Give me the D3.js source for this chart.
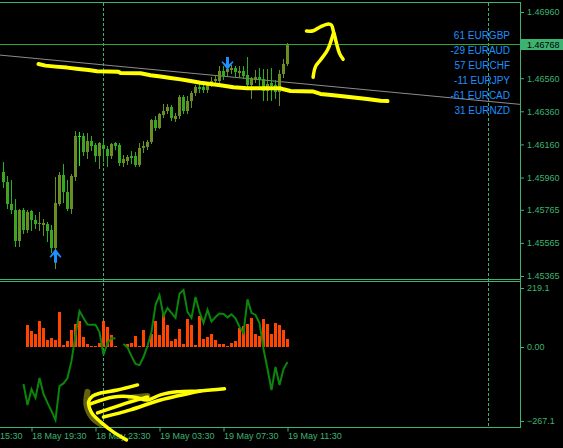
<!DOCTYPE html>
<html>
<head>
<meta charset="utf-8">
<script src="https://cdn.jsdelivr.net/npm/d3@7"></script>
<style>
  html, body { margin: 0; padding: 0; background: #000; }
  svg { display: block; }
</style>
</head>
<body>
<div id="chart"></div>
<script>
// ---- data ----
var startTime = "2021-05-18T17:45";   // first bar, M15
var barMinutes = 15;

// [open, high, low, close]
var candles = [
  [1.45994,1.46054,1.45903,1.45933],[1.45933,1.45969,1.45776,1.45800],[1.45800,1.45945,1.45746,1.45764],
  [1.45764,1.45831,1.45547,1.45574],[1.45574,1.45770,1.45547,1.45764],[1.45764,1.45776,1.45625,1.45640],
  [1.45640,1.45764,1.45631,1.45752],[1.45758,1.45764,1.45643,1.45701],[1.45704,1.45734,1.45655,1.45680],
  [1.45677,1.45752,1.45640,1.45683],[1.45674,1.45710,1.45613,1.45686],[1.45680,1.45689,1.45574,1.45634],
  [1.45643,1.45674,1.45513,1.45535],[1.45535,1.45966,1.45414,1.45806],[1.45800,1.45991,1.45794,1.45975],
  [1.45975,1.46042,1.45815,1.45873],[1.45873,1.45945,1.45764,1.45770],[1.45770,1.45982,1.45746,1.45969],
  [1.45966,1.46244,1.45945,1.46211],[1.46211,1.46238,1.46036,1.46211],[1.46211,1.46229,1.46096,1.46117],
  [1.46117,1.46229,1.46078,1.46181],[1.46181,1.46208,1.46126,1.46151],[1.46157,1.46169,1.46057,1.46087],
  [1.46090,1.46172,1.46018,1.46169],[1.46154,1.46181,1.46057,1.46133],[1.46133,1.46148,1.46027,1.46093],
  [1.46093,1.46169,1.46078,1.46160],[1.46166,1.46172,1.46133,1.46148],[1.46157,1.46166,1.46036,1.46048],
  [1.46048,1.46099,1.46027,1.46072],[1.46060,1.46096,1.46039,1.46081],[1.46090,1.46120,1.46048,1.46078],
  [1.46087,1.46117,1.46027,1.46036],[1.46036,1.46166,1.46027,1.46136],[1.46136,1.46181,1.46117,1.46148],
  [1.46142,1.46184,1.46133,1.46172],[1.46172,1.46311,1.46166,1.46308],[1.46308,1.46332,1.46247,1.46262],
  [1.46262,1.46347,1.46259,1.46344],[1.46338,1.46407,1.46323,1.46362],[1.46359,1.46407,1.46347,1.46389],
  [1.46389,1.46398,1.46308,1.46317],[1.46314,1.46347,1.46299,1.46332],[1.46329,1.46456,1.46317,1.46444],
  [1.46444,1.46456,1.46347,1.46359],[1.46359,1.46450,1.46347,1.46422],[1.46422,1.46480,1.46386,1.46471],
  [1.46471,1.46519,1.46459,1.46507],[1.46507,1.46525,1.46477,1.46495],[1.46507,1.46519,1.46477,1.46489],
  [1.46489,1.46537,1.46477,1.46522],[1.46522,1.46567,1.46510,1.46546],[1.46543,1.46579,1.46519,1.46555],
  [1.46543,1.46631,1.46528,1.46601],[1.46601,1.46631,1.46558,1.46573],[1.46595,1.46640,1.46579,1.46616],
  [1.46610,1.46640,1.46592,1.46622],[1.46622,1.46634,1.46570,1.46595],[1.46592,1.46631,1.46570,1.46601],
  [1.46601,1.46634,1.46561,1.46573],[1.46579,1.46691,1.46510,1.46519],[1.46519,1.46570,1.46438,1.46561],
  [1.46552,1.46610,1.46537,1.46570],[1.46570,1.46619,1.46519,1.46552],[1.46558,1.46613,1.46428,1.46480],
  [1.46480,1.46613,1.46428,1.46528],[1.46534,1.46619,1.46428,1.46513],[1.46519,1.46549,1.46438,1.46474],
  [1.46474,1.46607,1.46398,1.46586],[1.46586,1.46676,1.46570,1.46646],[1.46646,1.46773,1.46640,1.46768]
];

// indicator window: histogram and line, one value per bar (null = empty)
var histValues = [null,null,null,null,null,null,
  73,53,43,87,63,23,30,23,117,7,20,57,77,87,33,10,2,2,13,87,67,40,3,0,0,10,13,37,3,57,
  3,43,87,40,110,73,20,27,60,10,93,73,7,103,27,33,43,23,10,10,3,13,20,63,70,77,97,43,37,93,
  77,43,80,73,57,27];
var lineValues = [null,null,null,null,null,
  -124,-194,-141,-170,-104,-157,-187,-214,-244,-131,-122,-104,-47,39,119,96,74,73,73,49,
  -27,13,29,28,null,9,-2,-31,-57,-61,-34,3,49,139,172,103,129,113,96,177,
  189,116,96,166,116,79,123,84,99,111,109,98,108,95,66,46,158,113,106,79,
  -7,-74,-144,-67,-127,-74,-51];

var priceTicks = [1.46960, 1.46560, 1.46360, 1.46160, 1.45960, 1.45765, 1.45565, 1.45365];
var priceMin = 1.45365, priceMax = 1.46960;
var subTicks = [219.1, 0, -267.1];
var timeTicks = ["2021-05-18T15:30","2021-05-18T19:30","2021-05-18T23:30",
                 "2021-05-19T03:30","2021-05-19T07:30","2021-05-19T11:30"];
var daySeparators = ["2021-05-19T00:00","2021-05-20T00:00"];

var pairs = ["EURGBP","EURAUD","EURCHF","EURJPY","EURCAD","EURNZD"];
var pairScores = [61, -29, 57, -11, -61, 31];

// signal arrows [bar, price]
var upArrows = [[13, 1.45529]];
var downArrows = [[56, 1.46610]];

// grey trend line and hand drawn yellow marks, [bar, price] / [bar, value]
var trendLine = [[-1, 1.46700], [130, 1.46400]];
var yellowCurve = [[8.75,1.46646],[10.5,1.46636],[13,1.46630],[15.9,1.46624],[18.75,1.46616],[21.25,1.46610],
  [23.4,1.46602],[28.75,1.46599],[29.25,1.46592],[34.25,1.46590],[36.75,1.46578],[39.25,1.46570],
  [41.75,1.46561],[44.25,1.46553],[46.75,1.46543],[49.25,1.46533],[51.75,1.46525],[54.25,1.46517],
  [57.5,1.46505],[60.9,1.46499],[69.25,1.46499],[70,1.46493],[71.75,1.46483],[77.5,1.46479],
  [79.25,1.46465],[82.5,1.46457],[85.9,1.46448],[90.9,1.46435],[94.25,1.46424],[96,1.46422]];
var scribbleTop = [
  [[75.75,1.46845],[77.5,1.46847],[79.25,1.46871],[81.25,1.46888],[82,1.46881],[82.5,1.46841],
   [82.75,1.46821],[83.25,1.46771],[84,1.46710],[84.9,1.46674]],
  [[82.5,1.46833],[81,1.46730],[79.25,1.46670],[78,1.46630],[77.4,1.46566]]
];
var scribbleSub = [
  [[33.5,-127],[28.5,-144],[24.25,-154],[22.25,-164],[21.25,-184],[21.5,-204],[22.25,-224],
   [24.25,-250],[27.5,-284],[30.75,-310]],
  [[21.75,-190],[27.5,-167],[32.5,-167],[36,-177],[39.25,-160],[43.5,-150],[49.25,-147],[55.25,-140]],
  [[23.5,-220],[29.25,-194],[36,-167]],
  [[25,-234],[31.75,-210],[39.25,-177],[49.25,-147]]
];
var scribbleShade = [
  [[21,-150],[20.75,-194],[22.25,-237],[24.25,-257]],
  [[31.75,-170],[36,-164]]
];

// ---- layout ----
var W = 563, H = 448;
var axisX = 520;
var mainTop = 2, mainBottom = 279, subTop = 281, subBottom = 427;
var frameColor = "#3cb371";
var textFont = "'Liberation Sans', Arial, sans-serif";

var svg = d3.select("#chart").append("svg")
  .attr("width", W).attr("height", H)
  .style("background", "#000");

var parseT = d3.timeParse("%Y-%m-%dT%H:%M");
var t0 = parseT(startTime);
function barTime(i) { return new Date(t0.getTime() + i * barMinutes * 60000); }

var x = d3.scaleTime()
  .domain([barTime(0), barTime(candles.length - 1)])
  .range([3.5, 287.5]);
function bx(i) { return x(barTime(i)); }

var y = d3.scaleLinear().domain([priceMin, priceMax]).range([276, 12]);
var ys = d3.scaleLinear().domain([-267.1, 219.1]).range([subBottom, subTop]);

var defs = svg.append("defs");
defs.append("clipPath").attr("id", "clipMain")
  .append("rect").attr("x", 0).attr("y", mainTop + 1).attr("width", axisX).attr("height", mainBottom - mainTop - 1);
defs.append("clipPath").attr("id", "clipSub")
  .append("rect").attr("x", 0).attr("y", subTop + 1).attr("width", axisX).attr("height", subBottom - subTop - 1);

// period separators
svg.append("g").selectAll("line")
  .data(daySeparators)
  .join("line")
    .attr("x1", d => Math.round(x(parseT(d))) + 0.5)
    .attr("x2", d => Math.round(x(parseT(d))) + 0.5)
    .attr("y1", mainTop + 1).attr("y2", subBottom)
    .attr("stroke", frameColor)
    .attr("stroke-dasharray", "3,2");

// ---- main window ----
var main = svg.append("g").attr("clip-path", "url(#clipMain)");

main.append("path")
  .datum(trendLine)
  .attr("fill", "none")
  .attr("stroke", "#8c8c8c")
  .attr("stroke-width", 1)
  .attr("d", d3.line().x(d => bx(d[0])).y(d => y(d[1])));

var olive = "#6b8e23", bearEdge = "#22b222", dojiColor = "#00ff00";
var candleG = main.append("g").attr("shape-rendering", "crispEdges");
candles.forEach(function(c, i) {
  var o = c[0], h = c[1], l = c[2], cl = c[3];
  var cx = bx(i);
  var bull = cl > o, doji = cl === o;
  var col = doji ? dojiColor : (bull ? olive : bearEdge);
  candleG.append("line")
    .attr("x1", cx).attr("x2", cx)
    .attr("y1", Math.round(y(h))).attr("y2", Math.round(y(l)) + 1)
    .attr("stroke", col);
  var top = Math.round(y(Math.max(o, cl))), bot = Math.round(y(Math.min(o, cl)));
  if (doji) {
    candleG.append("line")
      .attr("x1", cx - 1.5).attr("x2", cx + 1.5)
      .attr("y1", top + 0.5).attr("y2", top + 0.5)
      .attr("stroke", col);
  } else if (bull) {
    candleG.append("rect")
      .attr("x", cx - 1.5).attr("width", 3)
      .attr("y", top).attr("height", Math.max(1, bot - top))
      .attr("fill", olive);
  } else {
    candleG.append("rect")
      .attr("x", cx - 1).attr("width", 2)
      .attr("y", top + 0.5).attr("height", Math.max(0, bot - top - 1))
      .attr("fill", olive)
      .attr("stroke", bearEdge);
  }
});

// bid line
var lastClose = candles[candles.length - 1][3];
var bidY = Math.round(y(lastClose)) + 0.5;
main.append("line")
  .attr("x1", 0).attr("x2", axisX)
  .attr("y1", bidY).attr("y2", bidY)
  .attr("stroke", "#2ea82e");

// arrows
var arrowUp = "M0,0L6,8L5,8.8L1.5,5.6L1.5,14L-1.5,14L-1.5,5.6L-5,8.8L-6,8Z";
var arrowDown = "M0,0L6,-8L5,-8.8L1.5,-5.6L1.5,-13L-1.5,-13L-1.5,-5.6L-5,-8.8L-6,-8Z";
main.selectAll(".up").data(upArrows).join("path")
  .attr("d", arrowUp).attr("fill", "#1e90ff")
  .attr("transform", d => "translate(" + bx(d[0]) + "," + y(d[1]) + ")");
main.selectAll(".down").data(downArrows).join("path")
  .attr("d", arrowDown).attr("fill", "#1e90ff")
  .attr("transform", d => "translate(" + bx(d[0]) + "," + y(d[1]) + ")");

// pair strength labels
svg.append("g")
  .attr("font-family", textFont).attr("font-size", 10)
  .attr("fill", "#1e90ff").attr("text-anchor", "end")
  .selectAll("text")
  .data(pairs)
  .join("text")
    .attr("x", 510)
    .attr("y", (d, i) => 38.7 + i * 15)
    .text((d, i) => pairScores[i] + " " + d);

// ---- indicator window ----
var sub = svg.append("g").attr("clip-path", "url(#clipSub)");
sub.append("g").attr("shape-rendering", "crispEdges")
  .selectAll("rect")
  .data(histValues.map((v, i) => [i, v]).filter(d => d[1] !== null && d[1] > 0))
  .join("rect")
    .attr("x", d => bx(d[0]) - 1.5)
    .attr("width", 3)
    .attr("y", d => Math.round(ys(d[1])))
    .attr("height", d => Math.max(1, Math.round(ys(0)) - Math.round(ys(d[1]))))
    .attr("fill", "#ff4500");

sub.append("path")
  .datum(lineValues)
  .attr("fill", "none")
  .attr("stroke", "#0a870a")
  .attr("stroke-width", 2)
  .attr("d", d3.line()
    .defined(d => d !== null)
    .x((d, i) => bx(i))
    .y(d => ys(d)));

// ---- frame and axes ----
var frame = svg.append("g").attr("stroke", frameColor).attr("shape-rendering", "crispEdges");
[mainTop, mainBottom, subTop, subBottom].forEach(function(yy) {
  frame.append("line").attr("x1", 0).attr("x2", axisX + 1).attr("y1", yy + 0.5).attr("y2", yy + 0.5);
});
frame.append("line").attr("x1", axisX + 0.5).attr("x2", axisX + 0.5).attr("y1", mainTop).attr("y2", subBottom + 1);

var yAxis = svg.append("g")
  .attr("transform", "translate(" + (axisX + 1) + ",0)")
  .call(d3.axisRight(y).tickValues(priceTicks).tickSize(3).tickPadding(3).tickFormat(d3.format(".5f")));
yAxis.select(".domain").remove();
yAxis.attr("font-family", textFont).attr("font-size", 9);
yAxis.selectAll(".tick line").attr("stroke", frameColor);
yAxis.selectAll(".tick text").attr("fill", frameColor);

// price label box
svg.append("rect")
  .attr("x", axisX + 1).attr("y", Math.round(y(lastClose)) - 5)
  .attr("width", W - axisX - 1).attr("height", 11)
  .attr("fill", frameColor);
svg.append("text")
  .attr("x", axisX + 7).attr("y", Math.round(y(lastClose)) + 3.5)
  .attr("font-family", textFont).attr("font-size", 9)
  .attr("fill", "#000")
  .text(d3.format(".5f")(lastClose));

// indicator scale: top and bottom labels sit inside the window
var subInset = function(d) { return d === subTicks[0] ? 7 : (d === subTicks[2] ? -6 : 0); };
var sAxis = svg.append("g")
  .attr("transform", "translate(" + (axisX + 1) + ",0)")
  .call(d3.axisRight(ys).tickValues(subTicks).tickSize(3).tickPadding(3)
    .tickFormat(d => d === 0 ? "0.00" : d3.format(".1f")(d)));
sAxis.select(".domain").remove();
sAxis.attr("font-family", textFont).attr("font-size", 9);
sAxis.selectAll(".tick").attr("transform", d => "translate(0," + (Math.round(ys(d) + subInset(d)) + 0.5) + ")");
sAxis.selectAll(".tick line").attr("stroke", frameColor);
sAxis.selectAll(".tick text").attr("fill", frameColor);

var xAxis = svg.append("g")
  .attr("transform", "translate(0," + (subBottom + 0.5) + ")")
  .call(d3.axisBottom(x).tickValues(timeTicks.map(parseT)).tickSize(4)
    .tickFormat(d3.timeFormat("%d %b %H:%M")));
xAxis.select(".domain").remove();
xAxis.attr("font-family", textFont).attr("font-size", 9).attr("text-anchor", "start");
xAxis.selectAll(".tick line").attr("stroke", frameColor);
xAxis.selectAll(".tick text").attr("fill", frameColor).attr("x", 0).attr("y", 5);

// ---- yellow hand drawn marks ----
var marks = svg.append("g")
  .attr("fill", "none")
  .attr("stroke-linecap", "round")
  .attr("stroke-linejoin", "round");

marks.append("path")
  .datum(yellowCurve)
  .attr("stroke", "#ffff00").attr("stroke-width", 4)
  .attr("d", d3.line().x(d => bx(d[0])).y(d => y(d[1])));

marks.selectAll(".top").data(scribbleTop).join("path")
  .attr("stroke", "#ffff00").attr("stroke-width", 3.5)
  .attr("d", d3.line().curve(d3.curveCatmullRom).x(d => bx(d[0])).y(d => y(d[1])));

marks.selectAll(".shade").data(scribbleShade).join("path")
  .attr("stroke", "#6e6a12").attr("stroke-width", 6).attr("opacity", 0.9)
  .attr("d", d3.line().curve(d3.curveCatmullRom).x(d => bx(d[0])).y(d => ys(d[1])));

marks.selectAll(".sub").data(scribbleSub).join("path")
  .attr("stroke", "#ffff00").attr("stroke-width", 3.5)
  .attr("d", d3.line().curve(d3.curveCatmullRom).x(d => bx(d[0])).y(d => ys(d[1])));
</script>
</body>
</html>
